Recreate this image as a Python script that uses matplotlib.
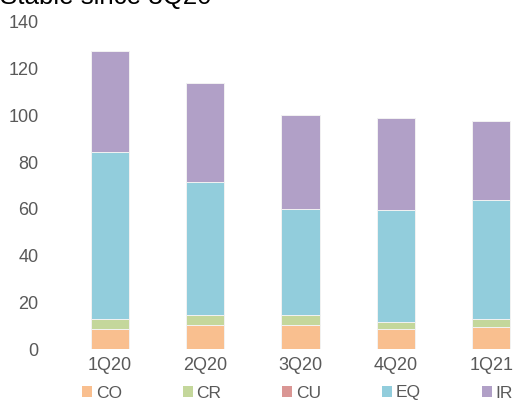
import matplotlib
matplotlib.use("Agg")
import matplotlib.pyplot as plt
from matplotlib.patches import Rectangle
import numpy as np

plt.rcParams['font.family'] = ['Liberation Sans', 'DejaVu Sans']

quarters = ["1Q20", "2Q20", "3Q20", "4Q20", "1Q21"]
series = ["CO", "CR", "CU", "EQ", "IR"]
co = [8.6, 10.3, 10.3, 8.4, 9.5]
cr = [4.4, 4.3, 4.3, 3.3, 3.5]
cu = [0.0, 0.0, 0.0, 0.0, 0.0]
eq = [71.4, 56.9, 45.4, 47.8, 50.6]
ir = [43.2, 42.4, 40.2, 39.4, 34.0]
colors = ["#F9BF8F", "#C4D79B", "#DA9694", "#92CDDC", "#B1A0C7"]

W, H = 515, 401
fig = plt.figure(figsize=(W / 100, H / 100), dpi=100)
ax = fig.add_axes([62.3 / W, 1 - 349 / H, 476.5 / W, (349 - 22) / H])

x = np.arange(len(quarters))
bottom = np.zeros(len(quarters))
for name, vals, c in zip(series, [co, cr, cu, eq, ir], colors):
    vals = np.array(vals)
    ax.bar(x, vals, width=0.4, bottom=bottom, color=c,
           edgecolor="#F2F2F2" if vals.any() else "none", linewidth=0.7)
    bottom += vals

ax.set_xlim(-0.5, 4.5)
ax.set_ylim(0, 140)
ax.set_yticks(range(0, 141, 20))
ax.set_xticks(x)
ax.set_xticklabels(quarters)
for s in ax.spines.values():
    s.set_visible(False)
ax.tick_params(length=0, labelsize=13, labelcolor="#595959")
ax.tick_params(axis="y", pad=17)
ax.tick_params(axis="x", pad=6)

handles = [Rectangle((0, 0), 1, 1, facecolor=c, edgecolor="none") for c in colors]
fig.legend(handles, series, loc="center left", bbox_to_anchor=(82 / W, 1 - 393 / H),
           ncol=5, frameon=False, fontsize=12.5, labelcolor="#595959",
           handlelength=0.57, handleheight=0.57, handletextpad=0.23,
           columnspacing=3.5, borderpad=0, borderaxespad=0)

# title sits mostly above the top edge, as in the source image
fig.text(0.0, 1 - 4 / H, "Stable since 3Q20", fontsize=18.6, color="black",
         ha="left", va="baseline")

fig.savefig("out.png", dpi=100)
